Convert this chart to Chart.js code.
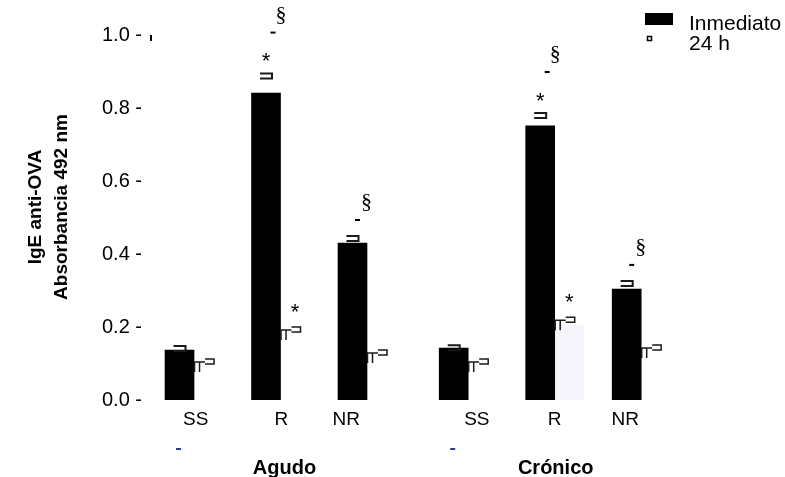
<!DOCTYPE html>
<html>
<head>
<meta charset="utf-8">
<script src="https://cdn.jsdelivr.net/npm/chart.js@4.4.1/dist/chart.umd.min.js"></script>
<style>
  html, body { margin: 0; padding: 0; background: #ffffff; }
  #wrap { width: 785px; height: 477px; }
</style>
</head>
<body>
<div id="wrap"><canvas id="c" width="785" height="477"></canvas></div>
<script>
// ---- data ----
const groups = ['Agudo', 'Crónico'];
const categories = ['SS', 'R', 'NR', 'SS', 'R', 'NR'];
const seriesNames = ['Inmediato', '24 h'];
const inmediato = [0.137, 0.841, 0.430, 0.142, 0.751, 0.304];
const inmediatoErr = [0.014, 0.056, 0.022, 0.011, 0.038, 0.025];
const horas24 = [0.095, 0.180, 0.120, 0.095, 0.205, 0.130];
const horas24Err = [0.017, 0.020, 0.017, 0.017, 0.022, 0.021];
const marksInmediato = ['', '*§', '§', '', '*§', '§'];
const marks24 = ['', '*', '', '', '*', ''];
const yTicks = [0, 0.2, 0.4, 0.6, 0.8, 1.0];

// ---- layout helpers ----
const GROUP_GAP = 0.17;                       // extra space between the two groups
const pos = i => (i % 3) + Math.floor(i / 3) * (3 + GROUP_GAP);
const LABEL_NUDGE = [0.02, 0.01, -0.24, 0.1, 0, -0.185];
const GROUP_NUDGE = [4, 1];
const SANS = '"Liberation Sans", Arial, Helvetica, sans-serif';
const SERIF = '"Liberation Serif", "Times New Roman", serif';
const fill24 = ['#ffffff', '#ffffff', '#ffffff', '#ffffff', '#f5f5fb', '#ffffff'];

const overlay = {
  id: 'overlay',
  afterDatasetsDraw(chart) {
    const { ctx, scales: { y } } = chart;
    const barsA = chart.getDatasetMeta(0).data;
    const barsB = chart.getDatasetMeta(1).data;
    ctx.save();
    ctx.strokeStyle = '#1a1a1a';
    ctx.fillStyle = '#000';

    const star = (cx, cy) => {
      ctx.font = '22px ' + SANS;
      ctx.textAlign = 'center';
      ctx.textBaseline = 'alphabetic';
      ctx.fillText('*', cx, cy + 12.5);
    };
    const section = (cx, cy) => {
      ctx.font = '22px ' + SERIF;
      ctx.textAlign = 'center';
      ctx.textBaseline = 'alphabetic';
      ctx.fillText('§', cx, cy + 6);
    };
    const dash = (cx, cy) => ctx.fillRect(cx - 2.5, cy - 1, 5, 2);

    // Inmediato: bracket cap + significance marks
    barsA.forEach((bar, i) => {
      const yc = y.getPixelForValue(inmediato[i] + inmediatoErr[i]);
      const cx = bar.x;
      ctx.lineWidth = 2;
      ctx.beginPath();
      ctx.moveTo(cx - 6, yc + 1);
      ctx.lineTo(cx + 6, yc + 1);
      ctx.lineTo(cx + 6, yc + 6);
      ctx.lineTo(cx - 6, yc + 6);
      ctx.stroke();
      const m = marksInmediato[i];
      if (m.includes('*')) {
        star(cx, yc - 17);
        dash(cx + 7, yc - 40);
        section(cx + 15, yc - 58);
      } else if (m.includes('§')) {
        dash(cx + 5, yc - 15);
        section(cx + 14, yc - 33);
      }
    });

    // 24 h: bracket cap + marks
    barsB.forEach((bar, i) => {
      const yc = y.getPixelForValue(horas24[i] + horas24Err[i]);
      const xl = bar.x - bar.width / 2;
      ctx.lineWidth = 1.5;
      ctx.beginPath();
      ctx.moveTo(xl + 0.5, yc + 13);
      ctx.lineTo(xl + 0.5, yc + 3);
      ctx.lineTo(xl + 11, yc + 3);
      ctx.moveTo(xl + 5.5, yc + 3);
      ctx.lineTo(xl + 5.5, yc + 13);
      ctx.moveTo(xl + 11, yc);
      ctx.lineTo(xl + 20, yc);
      ctx.lineTo(xl + 20, yc + 5);
      ctx.lineTo(xl + 11, yc + 5);
      ctx.stroke();
      if (marks24[i].includes('*')) star(bar.x, yc - 21);
    });
    ctx.restore();
  },
  afterDraw(chart) {
    const { ctx, scales: { x } } = chart;
    ctx.save();
    ctx.fillStyle = '#000';

    // axis title (two lines)
    ctx.font = 'bold 19px ' + SANS;
    ctx.textAlign = 'center';
    ctx.textBaseline = 'alphabetic';
    [['IgE anti-OVA', 41], ['Absorbancia 492 nm', 67]].forEach(([t, bx]) => {
      ctx.save();
      ctx.translate(bx, 207);
      ctx.rotate(-Math.PI / 2);
      ctx.fillText(t, 0, 0);
      ctx.restore();
    });

    // small mark beside the top tick
    ctx.fillRect(150, 35, 2, 6);

    // group names under the categories
    ctx.font = 'bold 20px ' + SANS;
    groups.forEach((g, k) => {
      const cx = (x.getPixelForValue(pos(k * 3)) + x.getPixelForValue(pos(k * 3 + 2))) / 2;
      ctx.fillText(g, cx + GROUP_NUDGE[k], 474);
    });
    ctx.fillStyle = '#2b3990';
    groups.forEach((g, k) => {
      const sx = x.getPixelForValue(pos(k * 3)) - 18;
      ctx.fillRect(sx, 448, 5, 2);
    });

    // legend
    const lx = 645;
    ctx.fillStyle = '#000';
    ctx.fillRect(lx, 13, 28, 12);
    ctx.strokeStyle = '#000';
    ctx.lineWidth = 1.5;
    ctx.strokeRect(lx + 2.5, 36.5, 4, 4);
    ctx.font = '21px ' + SANS;
    ctx.textAlign = 'left';
    ctx.fillText(seriesNames[0], 689, 30);
    ctx.fillText(seriesNames[1], 689, 50);
    ctx.restore();
  }
};

new Chart(document.getElementById('c'), {
  type: 'bar',
  data: {
    datasets: [
      {
        label: seriesNames[0],
        data: inmediato.map((v, i) => ({ x: pos(i), y: v })),
        backgroundColor: '#000000',
        borderWidth: 0
      },
      {
        label: seriesNames[1],
        data: horas24.map((v, i) => ({ x: pos(i), y: v })),
        backgroundColor: fill24,
        borderWidth: 0
      }
    ]
  },
  options: {
    responsive: false,
    animation: false,
    devicePixelRatio: 1,
    barThickness: 29,
    layout: { padding: { top: 35, right: 85, bottom: 0, left: 0 } },
    plugins: { legend: { display: false }, tooltip: { enabled: false } },
    scales: {
      x: {
        type: 'linear',
        offset: false,
        min: -0.509,
        max: 5.85,
        grid: { display: false, drawTicks: false },
        border: { display: false },
        afterBuildTicks: s => { s.ticks = categories.map((c, i) => ({ value: pos(i) + LABEL_NUDGE[i] })); },
        afterFit: s => { s.height = 77; },
        ticks: {
          autoSkip: false,
          maxRotation: 0,
          padding: 8,
          color: '#000',
          font: { family: SANS, size: 19 },
          callback: (v, i) => categories[i]
        }
      },
      y: {
        min: 0,
        max: 1.0,
        grid: { display: false, drawTicks: false },
        border: { display: false },
        afterBuildTicks: s => { s.ticks = yTicks.map(v => ({ value: v })); },
        afterFit: s => { s.width = 150; },
        ticks: {
          padding: 8,
          color: '#000',
          font: { family: SANS, size: 20 },
          callback: v => v.toFixed(1) + ' -'
        }
      }
    }
  },
  plugins: [overlay]
});
</script>
</body>
</html>
